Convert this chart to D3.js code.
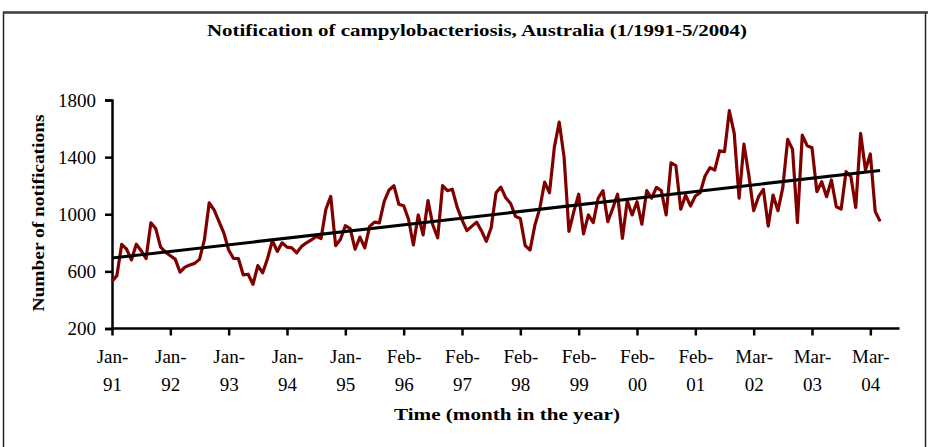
<!DOCTYPE html>
<html>
<head>
<meta charset="utf-8">
<script src="https://cdn.jsdelivr.net/npm/d3@7"></script>
<style>
  body { margin: 0; background: #fff; }
  svg { display: block; }
  text { font-family: "Liberation Serif", "Times New Roman", serif; fill: #000; }
</style>
</head>
<body>
<svg id="chart" width="928" height="447"></svg>
<script>
// Monthly notifications, Jan 1991 onward
const notifications = [
  530, 570, 790, 755, 680, 790, 745, 690, 940, 900,
  770, 735, 710, 686, 595, 630, 645, 656, 684, 820,
  1080, 1030, 950, 870, 750, 690, 690, 575, 580, 510,
  640, 590, 690, 815, 740, 800, 770, 765, 730, 775,
  800, 820, 845, 830, 1035, 1125, 780, 825, 920, 900,
  755, 840, 765, 915, 945, 940, 1090, 1170, 1200, 1070,
  1060, 965, 785, 995, 855, 1095, 925, 835, 1200, 1165,
  1175, 1050, 960, 885, 915, 945, 885, 810, 905, 1150,
  1190, 1115, 1075, 985, 970, 780, 750, 925, 1040, 1225,
  1150, 1470, 1645, 1400, 880, 1018, 1140, 862, 995, 941,
  1112, 1165, 948, 1040, 1140, 831, 1095, 995, 1088, 930,
  1165, 1112, 1188, 1165, 995, 1360, 1340, 1035, 1134, 1058,
  1128, 1151, 1268, 1326, 1310, 1445, 1438, 1725, 1566, 1112,
  1491, 1275, 1025, 1123, 1174, 917, 1134, 1025, 1188, 1524,
  1454, 941, 1554, 1480, 1466, 1158, 1228, 1123, 1240, 1053,
  1037, 1298, 1263, 1048, 1566, 1310, 1422, 1020, 950
];
// Linear trend line: values at first and last month
const trendValues = [693, 1307];
const xTickLine1 = ["Jan-", "Jan-", "Jan-", "Jan-", "Jan-", "Feb-", "Feb-", "Feb-", "Feb-", "Feb-", "Feb-", "Mar-", "Mar-", "Mar-"];
const xTickLine2 = ["91", "92", "93", "94", "95", "96", "97", "98", "99", "00", "01", "02", "03", "04"];
const yTicks = [200, 600, 1000, 1400, 1800];
const chartTitle = "Notification of campylobacteriosis, Australia (1/1991-5/2004)";
const yTitle = "Number of notifications";
const xTitle = "Time (month in the year)";

const svg = d3.select("#chart");

// outer frame
svg.append("rect")
  .attr("x", 3.5).attr("y", 12.5).attr("width", 922).attr("height", 450)
  .attr("fill", "none").attr("stroke", "#222").attr("stroke-width", 1.5);
svg.append("line")
  .attr("x1", 3).attr("x2", 928).attr("y1", 12.5).attr("y2", 12.5)
  .attr("stroke", "#444").attr("stroke-width", 2.5);

const x = d3.scaleLinear().domain([0, 162]).range([112, 899.5]);
const y = d3.scaleLinear().domain([200, 1800]).range([328.5, 100]);

// title
svg.append("text")
  .attr("x", 477).attr("y", 36)
  .attr("text-anchor", "middle")
  .attr("font-size", 16.5).attr("font-weight", "bold")
  .attr("textLength", 540).attr("lengthAdjust", "spacingAndGlyphs")
  .text(chartTitle);

// y axis
const yAxis = d3.axisLeft(y).tickValues(yTicks).tickSize(7).tickPadding(9).tickFormat(d3.format("d"));
const gy = svg.append("g").attr("transform", "translate(112,0)").call(yAxis);
gy.select(".domain").attr("stroke", "#000").attr("stroke-width", 2.5);
gy.selectAll(".tick line").attr("stroke", "#000").attr("stroke-width", 2.5);
gy.selectAll(".tick text").attr("font-size", 19).attr("font-family", "Liberation Serif").attr("fill", "#000");

// x axis
const tickIdx = xTickLine1.map((d, i) => i * 12);
const xAxis = d3.axisBottom(x).tickValues(tickIdx).tickSize(7).tickFormat("");
const gx = svg.append("g").attr("transform", "translate(0,328.5)").call(xAxis);
gx.select(".domain").attr("stroke", "#000").attr("stroke-width", 2.5).attr("d", `M${x(0)},0H${x(162)}`);
gx.selectAll(".tick line").attr("stroke", "#000").attr("stroke-width", 2.5);
gx.selectAll(".tick").each(function(d, i) {
  const t = d3.select(this);
  t.append("text").attr("y", 34).attr("text-anchor", "middle").attr("font-size", 19).text(xTickLine1[i]);
  t.append("text").attr("y", 62).attr("text-anchor", "middle").attr("font-size", 19).text(xTickLine2[i]);
});

// axis titles
svg.append("text")
  .attr("transform", "translate(44,213) rotate(-90)")
  .attr("text-anchor", "middle")
  .attr("font-size", 16.5).attr("font-weight", "bold")
  .attr("textLength", 197).attr("lengthAdjust", "spacingAndGlyphs")
  .text(yTitle);
svg.append("text")
  .attr("x", 507).attr("y", 420)
  .attr("text-anchor", "middle")
  .attr("font-size", 16.5).attr("font-weight", "bold")
  .attr("textLength", 226).attr("lengthAdjust", "spacingAndGlyphs")
  .text(xTitle);

// data line
const line = d3.line().x((d, i) => x(i)).y(d => y(d));
svg.append("path")
  .datum(notifications)
  .attr("fill", "none").attr("stroke", "#800000").attr("stroke-width", 3.2)
  .attr("stroke-linejoin", "round")
  .attr("d", line);

// linear trend line
const lastIdx = notifications.length - 1;
svg.append("line")
  .attr("x1", x(0)).attr("y1", y(trendValues[0]))
  .attr("x2", x(lastIdx)).attr("y2", y(trendValues[1]))
  .attr("stroke", "#000").attr("stroke-width", 3);
</script>
</body>
</html>
